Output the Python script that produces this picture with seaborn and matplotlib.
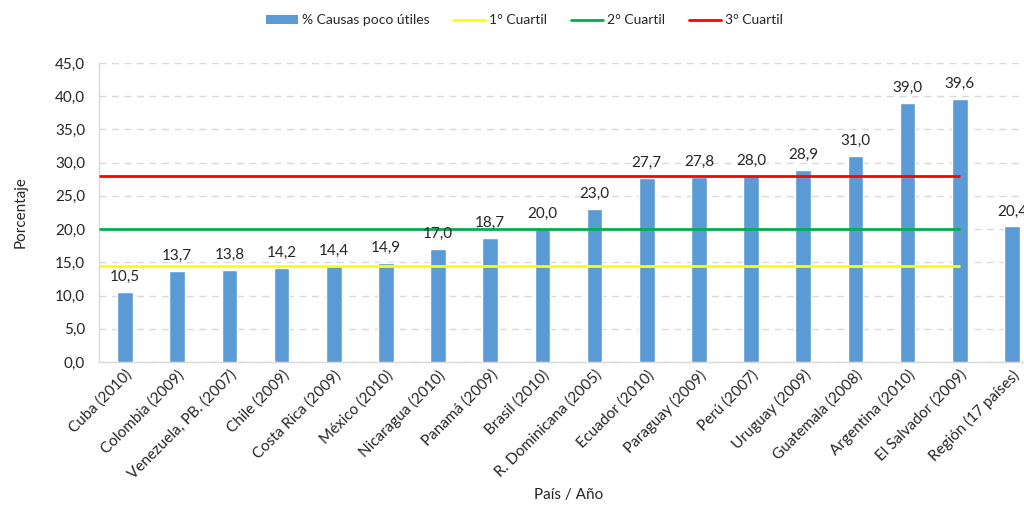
import matplotlib
matplotlib.use("Agg")
import matplotlib.pyplot as plt
from matplotlib.ticker import FuncFormatter, MultipleLocator
from matplotlib.lines import Line2D
from matplotlib.patches import Patch
import seaborn as sns
import pandas as pd

paises = ["Cuba (2010)", "Colombia (2009)", "Venezuela, PB. (2007)", "Chile (2009)",
          "Costa Rica (2009)", "México (2010)", "Nicaragua (2010)", "Panamá (2009)",
          "Brasil (2010)", "R. Dominicana (2005)", "Ecuador (2010)", "Paraguay (2009)",
          "Perú (2007)", "Uruguay (2009)", "Guatemala (2008)", "Argentina (2010)",
          "El Salvador (2009)", "Región (17 países)"]
porcentaje = [10.5, 13.7, 13.8, 14.2, 14.4, 14.9, 17.0, 18.7, 20.0, 23.0,
              27.7, 27.8, 28.0, 28.9, 31.0, 39.0, 39.6, 20.4]
cuartiles = [14.4, 20.0, 28.0]
cuartil_nombres = ["1° Cuartil", "2° Cuartil", "3° Cuartil"]
cuartil_colores = ["#FFFF00", "#00B050", "#FF0000"]

sns.set_theme(style="white")
plt.rcParams["font.family"] = ["Lato", "DejaVu Sans"]
txt = "#262626"
fs = 11

df = pd.DataFrame({"pais": paises, "valor": porcentaje})

fig = plt.figure(figsize=(10.24, 5.07), dpi=100)
ax = fig.add_axes([99 / 1024, 145 / 507, 939 / 1024, 299 / 507])

sns.barplot(data=df, x="pais", y="valor", color="#5B9BD5", width=0.3,
            saturation=1, ax=ax, zorder=3)

# quartile reference lines over the 17 countries
n_paises = len(paises) - 1
for q, c in zip(cuartiles, cuartil_colores):
    ax.hlines(q, -0.5, n_paises - 1, color=c, linewidth=2, zorder=4)

for i, v in enumerate(porcentaje):
    ax.text(i, v + 1.2, f"{v:.1f}".replace(".", ","), ha="center", va="bottom",
            fontsize=fs, color=txt, zorder=5)

ax.set_xlim(-0.5, len(paises) - 0.5)
ax.set_ylim(0, 45)
ax.yaxis.set_major_locator(MultipleLocator(5))
ax.yaxis.set_major_formatter(FuncFormatter(lambda v, p: f"{v:.1f}".replace(".", ",")))
ax.grid(axis="y", color="#D9D9D9", linestyle=(0, (5, 4)), linewidth=1, zorder=0)
ax.set_axisbelow(True)

for s in ["top", "right"]:
    ax.spines[s].set_visible(False)
for s in ["left", "bottom"]:
    ax.spines[s].set_color("#D9D9D9")
    ax.spines[s].set_linewidth(1)

ax.tick_params(axis="y", length=0, labelsize=fs, labelcolor=txt, pad=10)
ax.tick_params(axis="x", length=0, labelsize=fs, labelcolor=txt, pad=4)
plt.setp(ax.get_xticklabels(), rotation=45, ha="right", rotation_mode="anchor")

ax.set_xlabel("País / Año", fontsize=fs, color=txt, va="center")
ax.xaxis.set_label_coords(0.5, -0.445)
ax.set_ylabel("Porcentaje", fontsize=fs, color=txt, labelpad=20)

handles = [Patch(facecolor="#5B9BD5", edgecolor="none")] + \
          [Line2D([0], [0], color=c, linewidth=2) for c in cuartil_colores]
labels = ["% Causas poco útiles"] + cuartil_nombres
fig.legend(handles, labels, loc="center", bbox_to_anchor=(0.512, 0.96), ncol=4,
           frameon=False, fontsize=10, handlelength=2.3, handleheight=0.55,
           columnspacing=1.7, handletextpad=0.3, labelcolor=txt)

fig.savefig("out.png", dpi=100)
